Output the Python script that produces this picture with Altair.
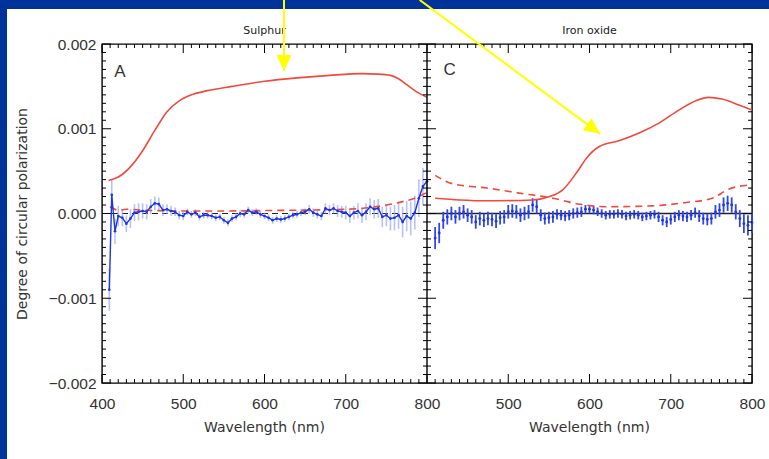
import altair as alt
import pandas as pd

# ---------------- data (polarization values in units of 1e-4) ----------------
# Panel A : Sulphur
sul_red_wl = [408, 420, 435, 450, 465, 480, 495, 510, 530, 560, 600, 640, 680, 720, 740, 755, 765, 775, 785, 800]
sul_red = [3.9, 4.3, 5.5, 7.4, 9.8, 12.0, 13.3, 14.0, 14.5, 15.0, 15.6, 16.0, 16.3, 16.5, 16.45, 16.3, 15.9, 15.2, 14.5, 13.7]
sul_dash_wl = [410, 420, 430, 450, 500, 550, 600, 650, 700, 730, 750, 770, 785, 800]
sul_dash = [0.8, 0.4, 0.5, 0.4, 0.3, 0.3, 0.35, 0.4, 0.5, 0.7, 1.0, 1.4, 1.8, 2.5]
sul_blue_wl = [409, 412, 416, 420] + list(range(425, 805, 5))
sul_blue = [-9.0, 2.2, -2.1, -0.3,
            -0.5, -1.2, -0.6, 0.1, 0.2, 0.3, 0.2, 0.8, 1.2, 1.1,
            0.4, 0.5, 0.3, 0.2, -0.2, -0.3, 0.2, -0.1, 0.1, -0.4,
            -0.2, -0.2, -0.3, -0.5, -0.4, -0.8, -1.1, -0.6, -0.4, 0.0,
            -0.1, 0.4, 0.1, 0.2, -0.1, -0.3, -0.5, -0.8, -0.6, -0.7,
            -0.6, -0.4, -0.2, -0.1, 0.1, 0.2, 0.5, 0.1, -0.1, -0.3,
            0.6, 0.4, 0.6, 0.3, 0.2, 0.1, -0.3, 0.1, 0.3, -0.2,
            0.2, 0.8, 0.5, 0.6, -0.4, -0.2, -0.6, -0.5, -0.2, -1.0,
            -0.3, -0.6, 0.1, 1.8, 3.2, 3.8]
sul_err = [2.5, 1.8, 1.5, 1.2,
           1.0, 1.0, 1.1, 1.0, 1.0, 0.9, 0.9, 0.9, 0.8, 0.8,
           0.7, 0.6, 0.6, 0.5, 0.5, 0.5, 0.4, 0.4, 0.4, 0.4,
           0.4, 0.4, 0.4, 0.4, 0.4, 0.4, 0.4, 0.4, 0.4, 0.4,
           0.4, 0.4, 0.4, 0.4, 0.4, 0.4, 0.4, 0.4, 0.4, 0.4,
           0.4, 0.4, 0.4, 0.4, 0.4, 0.4, 0.5, 0.5, 0.5, 0.5,
           0.6, 0.6, 0.6, 0.7, 0.7, 0.8, 0.8, 0.8, 0.9, 0.9,
           1.0, 1.0, 1.1, 1.1, 1.2, 1.3, 1.4, 1.5, 1.6, 1.8,
           1.8, 2.0, 2.0, 2.2, 2.2, 2.0]

# Panel C : Iron oxide
iron_red_wl = [410, 440, 474, 530, 551, 567, 584, 596, 612, 637, 661, 686, 710, 731, 747, 763, 784, 800]
iron_red = [1.8, 1.6, 1.5, 1.6, 2.0, 2.8, 4.8, 6.5, 7.9, 8.6, 9.5, 10.7, 12.2, 13.3, 13.7, 13.5, 12.8, 12.2]
iron_dash_wl = [410, 432, 474, 514, 555, 588, 621, 677, 719, 751, 772, 800]
iron_dash = [4.5, 3.5, 3.0, 2.4, 1.8, 1.1, 0.8, 0.9, 1.3, 1.8, 2.9, 3.4]
iron_blue_wl = list(range(410, 805, 5))
iron_blue = [-2.9, -2.3, -0.8, -0.4, 0.0, -0.4, 0.0, 0.2, -0.2, -0.4,
             -1.0, -0.6, -0.8, -0.6, -0.7, -0.9, -0.5, -0.4, 0.2, 0.3,
             0.2, -0.2, 0.0, 0.2, 1.0, 0.8, -0.2, -0.6, -0.5, -0.4,
             -0.1, -0.2, -0.3, -0.2, 0.0, 0.1, 0.2, 0.5, 0.5, 0.4,
             0.2, 0.0, -0.2, -0.1, -0.1, 0.0, -0.1, -0.3, -0.2, -0.1, -0.2,
             -0.4, -0.3, -0.2, -0.1, -0.4, -0.8, -1.0, -0.7, -0.4, -0.2,
             -0.3, -0.4, -0.2, 0.1, -0.3, -0.6, -0.7, -0.6, 0.2, 0.4,
             1.0, 1.2, 1.0, 0.2, -0.6, -1.2, -1.4, -1.1]
iron_err = [1.3, 1.2, 1.0, 0.9, 0.8, 0.8, 0.8, 0.8, 0.8, 0.8,
            0.8, 0.8, 0.8, 0.8, 0.8, 0.8, 0.8, 0.8, 0.8, 0.8,
            0.8, 0.8, 0.8, 0.8, 0.8, 0.8, 0.7, 0.7, 0.7, 0.7,
            0.6, 0.6, 0.6, 0.6, 0.6, 0.6, 0.6, 0.5, 0.5, 0.5,
            0.5, 0.5, 0.5, 0.5, 0.5, 0.5, 0.5, 0.5, 0.5, 0.5, 0.5,
            0.5, 0.5, 0.5, 0.5, 0.6, 0.6, 0.6, 0.6, 0.6, 0.6,
            0.6, 0.6, 0.6, 0.6, 0.7, 0.7, 0.7, 0.7, 0.8, 0.8,
            0.9, 0.9, 0.9, 0.9, 1.0, 1.1, 1.2, 1.2]

panel_titles = ["Sulphur", "Iron oxide"]
panel_letters = ["A", "C"]
x_title = "Wavelength (nm)"
y_title = "Degree of circular polarization"
y_ticks = [-0.002, -0.001, 0.0, 0.001, 0.002]
x_ticks = [400, 500, 600, 700, 800, 900, 1000, 1100, 1200]

# ---------------- layout ----------------
W, H = 650, 339
SHIFT = 400  # panel C is drawn on the same axis, shifted by 400 nm
S = 1e-4
RED = "#f2493d"
BLUE = "#1e35e6"
LIGHTBLUE = "#9aa8f4"
YELLOW = "#ffff00"
FRAMEBLUE = "#003399"

xs = alt.Scale(domain=[400, 1200], nice=False, zero=False)
ys = alt.Scale(domain=[-0.002, 0.002], nice=False, zero=False)

xaxis = alt.Axis(values=x_ticks, labelExpr="datum.value <= 800 ? datum.value : datum.value - 400",
                 tickSize=0, domain=False, grid=False, labelFont="Liberation Sans", labelFontSize=15.5,
                 labelColor="#333333", labelPadding=13, labelFlush=False, labelOverlap=False, title=None)
yaxis = alt.Axis(values=y_ticks, labelExpr="format(datum.value, '.3f')", tickSize=0, domain=False, grid=False,
                 labelFont="Liberation Sans", labelFontSize=15.5, labelColor="#333333", labelPadding=6,
                 labelFlush=False, labelOverlap=False,
                 title=y_title, titleFont="DejaVu Sans", titleFontSize=14, titleFontWeight="normal",
                 titleColor="#333333", titleX=-80, titleY=H / 2, titleBaseline="middle", titleAlign="center")


def X(f="x"):
    return alt.X(f + ":Q", scale=xs, axis=xaxis)


def Y(f="y"):
    return alt.Y(f + ":Q", scale=ys, axis=yaxis)


one = pd.DataFrame({"k": [0]})

# decorative blue frame (top and left strips)
frame_top = alt.Chart(one).mark_rect(color=FRAMEBLUE).encode(
    x=alt.value(-102), x2=alt.value(W + 17), y=alt.value(-44), y2=alt.value(-35))
frame_left = alt.Chart(one).mark_rect(color=FRAMEBLUE).encode(
    x=alt.value(-102), x2=alt.value(-95), y=alt.value(-44), y2=alt.value(H + 76))

# dataframes
df_sr = pd.DataFrame({"x": sul_red_wl, "y": [v * S for v in sul_red]})
df_sd = pd.DataFrame({"x": sul_dash_wl, "y": [v * S for v in sul_dash]})
df_sb = pd.DataFrame([{"x": w, "y": v * S, "lo": (v - e) * S, "hi": (v + e) * S}
                      for w, v, e in zip(sul_blue_wl, sul_blue, sul_err)])
df_ir = pd.DataFrame({"x": [w + SHIFT for w in iron_red_wl], "y": [v * S for v in iron_red]})
df_id = pd.DataFrame({"x": [w + SHIFT for w in iron_dash_wl], "y": [v * S for v in iron_dash]})
df_ib = pd.DataFrame([{"x": w + SHIFT, "y": v * S, "lo": (v - e) * S, "hi": (v + e) * S}
                      for w, v, e in zip(iron_blue_wl, iron_blue, iron_err)])

zero_a = alt.Chart(pd.DataFrame({"x": [400], "x2": [800], "y": [0.0]})).mark_rule(
    color="#222222", strokeWidth=1.2, strokeDash=[6, 4]).encode(x=X(), x2="x2:Q", y=Y())
zero_c = alt.Chart(pd.DataFrame({"x": [800], "x2": [1200], "y": [0.0]})).mark_rule(
    color="#222222", strokeWidth=1.4).encode(x=X(), x2="x2:Q", y=Y())

err_a = alt.Chart(df_sb).mark_rule(color=LIGHTBLUE, strokeWidth=1.6, opacity=0.7).encode(
    x=X(), y=Y("lo"), y2="hi:Q")
line_a = alt.Chart(df_sb).mark_line(color=BLUE, strokeWidth=1.4,
                                    point=alt.OverlayMarkDef(color=BLUE, size=7, filled=True)).encode(x=X(), y=Y())
red_a = alt.Chart(df_sr).mark_line(color=RED, strokeWidth=1.6, interpolate="monotone").encode(x=X(), y=Y())
dash_a = alt.Chart(df_sd).mark_line(color=RED, strokeWidth=1.6, strokeDash=[7, 5],
                                    interpolate="monotone").encode(x=X(), y=Y())

err_c = alt.Chart(df_ib).mark_rule(color="#3046ee", strokeWidth=1.8).encode(x=X(), y=Y("lo"), y2="hi:Q")
pts_c = alt.Chart(df_ib).mark_point(color=BLUE, size=8, filled=True, opacity=1).encode(x=X(), y=Y())
red_c = alt.Chart(df_ir).mark_line(color=RED, strokeWidth=1.6, interpolate="monotone").encode(x=X(), y=Y())
dash_c = alt.Chart(df_id).mark_line(color=RED, strokeWidth=1.6, strokeDash=[7, 5],
                                    interpolate="monotone").encode(x=X(), y=Y())

# inner ticks (IDL style)
minor_x = pd.DataFrame({"t": [v for v in range(400, 1201, 10) if v % 100 != 0]})
major_x = pd.DataFrame({"t": x_ticks})
minor_y = pd.DataFrame({"t": [v * S for v in range(-20, 21) if v % 10 != 0]})
major_y = pd.DataFrame({"t": y_ticks})
tick_layers = []
for dfx, ln in ((minor_x, 4), (major_x, 9)):
    tick_layers.append(alt.Chart(dfx).mark_rule(color="black", strokeWidth=1).encode(
        x=X("t"), y=alt.value(H), y2=alt.value(H - ln)))
    tick_layers.append(alt.Chart(dfx).mark_rule(color="black", strokeWidth=1).encode(
        x=X("t"), y=alt.value(0), y2=alt.value(ln)))
for dfy, ln in ((minor_y, 4), (major_y, 9)):
    tick_layers.append(alt.Chart(dfy).mark_rule(color="black", strokeWidth=1).encode(
        y=Y("t"), x=alt.value(0), x2=alt.value(ln)))
    tick_layers.append(alt.Chart(dfy).mark_rule(color="black", strokeWidth=1).encode(
        y=Y("t"), x=alt.value(W - ln), x2=alt.value(W)))
    tick_layers.append(alt.Chart(dfy).mark_rule(color="black", strokeWidth=1).encode(
        y=Y("t"), x=alt.value(W / 2 - ln), x2=alt.value(W / 2 + ln)))

mid_line = alt.Chart(pd.DataFrame({"x": [800]})).mark_rule(color="black", strokeWidth=1.4).encode(
    x=X(), y=alt.value(0), y2=alt.value(H))

# texts
df_pt = pd.DataFrame({"x": [600, 1000], "text": panel_titles})
ptitles = alt.Chart(df_pt).mark_text(font="DejaVu Sans", fontSize=11, color="#222222", baseline="middle").encode(
    x=X(), y=alt.value(-13), text="text:N")
df_xt = pd.DataFrame({"x": [600, 1000], "text": [x_title, x_title]})
xtitles = alt.Chart(df_xt).mark_text(font="DejaVu Sans", fontSize=14, color="#333333", baseline="middle").encode(
    x=X(), y=alt.value(H + 45), text="text:N")
df_lt = pd.DataFrame({"x": [422, 828], "y": [0.00167, 0.00169], "text": panel_letters})
letters = alt.Chart(df_lt).mark_text(font="Liberation Sans", fontSize=17, color="#333333", baseline="middle").encode(
    x=X(), y=Y(), text="text:N")

# yellow arrows
arrow_x0 = [624, 791]
arrow_y0 = [0.00252, 0.00252]
arrow_x1 = [624, 1013]
arrow_y1 = [0.00168, 0.00094]
arrow_angle = [90, 36.6]
df_ar = pd.DataFrame({"x": arrow_x0, "y": arrow_y0, "x2": arrow_x1, "y2": arrow_y1, "a": arrow_angle})
shafts = alt.Chart(df_ar).mark_rule(color=YELLOW, strokeWidth=2).encode(x=X(), y=Y(), x2="x2:Q", y2="y2:Q")
heads = alt.Chart(df_ar).mark_point(shape="M0,0L-1,-0.47L-1,0.47Z", filled=True, size=1024, color=YELLOW,
                                    opacity=1, strokeWidth=0).encode(
    x=X("x2"), y=Y("y2"), angle=alt.Angle("a:Q", scale=None))

chart = alt.layer(
    frame_top, frame_left,
    zero_a, zero_c,
    err_a, dash_a, red_a, line_a,
    err_c, pts_c, dash_c, red_c,
    *tick_layers, mid_line,
    ptitles, xtitles, letters,
    shafts, heads,
).properties(
    width=W, height=H,
    padding={"left": 102, "top": 44, "right": 17, "bottom": 76},
    autosize=alt.AutoSizeParams(type="none"),
    background="white",
).configure_view(stroke="black", strokeWidth=1.4)

chart.save("out.html", embed_options={"renderer": "svg", "actions": False})
